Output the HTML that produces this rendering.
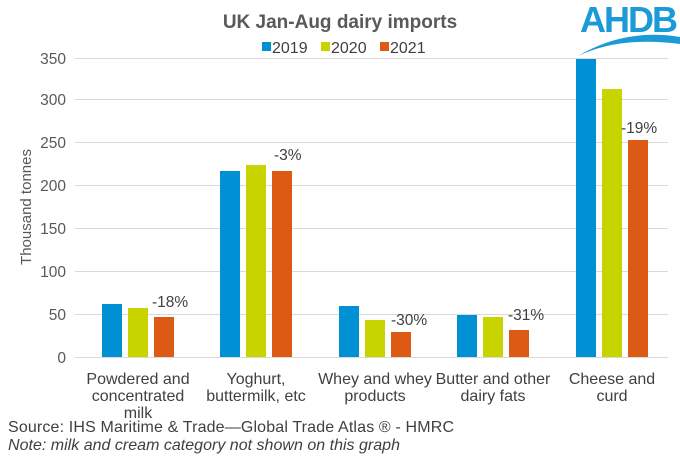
<!DOCTYPE html><html><head><meta charset="utf-8"><style>body{margin:0;background:#fff}svg{display:block;font-family:"Liberation Sans",sans-serif}</style></head><body>
<svg width="680" height="456" viewBox="0 0 680 456">
<text x="340" y="28" font-size="19" font-weight="bold" fill="#595959" text-anchor="middle">UK Jan-Aug dairy imports</text>
<rect x="262" y="42" width="9" height="9" fill="#0090d4"/><text x="272" y="53" font-size="16" fill="#404040">2019</text>
<rect x="321" y="42" width="9" height="9" fill="#c8d400"/><text x="331" y="53" font-size="16" fill="#404040">2020</text>
<rect x="380" y="42" width="9" height="9" fill="#dc5a14"/><text x="390" y="53" font-size="16" fill="#404040">2021</text>
<text x="580" y="32" font-size="36" font-weight="bold" fill="#1a9ad6" letter-spacing="-2">AHDB</text>
<path d="M578 56 Q620 36 680 44 L680 37 Q625 28 578 56Z" fill="#1a9ad6"/>
<g stroke="#d9d9d9" stroke-width="1">
<line x1="75" x2="668" y1="58.5" y2="58.5"/><line x1="75" x2="668" y1="99.5" y2="99.5"/><line x1="75" x2="668" y1="142.5" y2="142.5"/><line x1="75" x2="668" y1="185.5" y2="185.5"/><line x1="75" x2="668" y1="228.5" y2="228.5"/><line x1="75" x2="668" y1="271.5" y2="271.5"/><line x1="75" x2="668" y1="314.5" y2="314.5"/><line x1="75" x2="668" y1="357.5" y2="357.5"/></g>
<g font-size="15.5" fill="#595959" text-anchor="end">
<text x="66" y="64">350</text><text x="66" y="105">300</text><text x="66" y="148">250</text><text x="66" y="191">200</text><text x="66" y="234">150</text><text x="66" y="277">100</text><text x="66" y="320">50</text><text x="66" y="363">0</text></g>
<text transform="translate(31,207) rotate(-90)" font-size="15" fill="#595959" text-anchor="middle">Thousand tonnes</text>
<g>
<rect x="102" y="304" width="20" height="53" fill="#0090d4"/><rect x="128" y="308" width="20" height="49" fill="#c8d400"/><rect x="154" y="317" width="20" height="40" fill="#dc5a14"/>
<rect x="220" y="171" width="20" height="186" fill="#0090d4"/><rect x="246" y="165" width="20" height="192" fill="#c8d400"/><rect x="272" y="171" width="20" height="186" fill="#dc5a14"/>
<rect x="339" y="306" width="20" height="51" fill="#0090d4"/><rect x="365" y="320" width="20" height="37" fill="#c8d400"/><rect x="391" y="332" width="20" height="25" fill="#dc5a14"/>
<rect x="457" y="315" width="20" height="42" fill="#0090d4"/><rect x="483" y="317" width="20" height="40" fill="#c8d400"/><rect x="509" y="330" width="20" height="27" fill="#dc5a14"/>
<rect x="576" y="59" width="20" height="298" fill="#0090d4"/><rect x="602" y="89" width="20" height="268" fill="#c8d400"/><rect x="628" y="140" width="20" height="217" fill="#dc5a14"/>
</g>
<g font-size="15.5" fill="#404040">
<text x="152" y="307">-18%</text><text x="274" y="160">-3%</text><text x="391" y="325">-30%</text><text x="508" y="320">-31%</text><text x="621" y="133">-19%</text></g>
<g font-size="16" fill="#404040" text-anchor="middle">
<text x="138" y="384">Powdered and</text><text x="138" y="401">concentrated</text><text x="138" y="418">milk</text>
<text x="256" y="384">Yoghurt,</text><text x="256" y="401">buttermilk, etc</text>
<text x="375" y="384">Whey and whey</text><text x="375" y="401">products</text>
<text x="493" y="384">Butter and other</text><text x="493" y="401">dairy fats</text>
<text x="612" y="384">Cheese and</text><text x="612" y="401">curd</text></g>
<text x="8" y="432" font-size="16" fill="#404040" textLength="446">Source: IHS Maritime &amp; Trade—Global Trade Atlas ®  - HMRC</text>
<text x="8" y="450" font-size="16" font-style="italic" fill="#404040" textLength="392">Note: milk and cream category not shown  on this graph</text>
</svg></body></html>
